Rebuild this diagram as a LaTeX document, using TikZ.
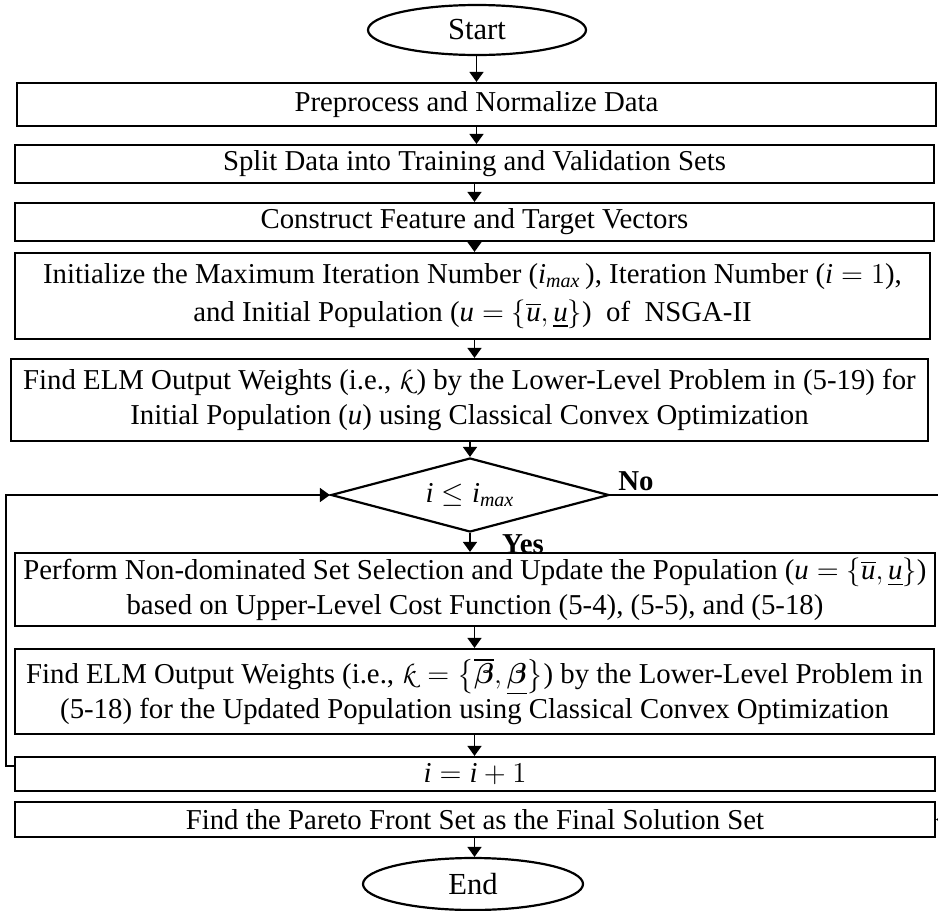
\documentclass[tikz,border=0pt]{standalone}
\usepackage{amsmath}
\usepackage{fontspec}
\setmainfont{Liberation Serif}
\usetikzlibrary{shapes.geometric,arrows.meta,calc}
\DeclareMathAlphabet{\mathpzc}{OT1}{pzc}{m}{it}
\newcommand{\wk}{\mathpzc{k}}
\newcommand{\vi}{\mathit{i}}
\newcommand{\vu}{\mathit{u}}
\newcommand{\imx}{\mathit{i}_{\mathit{max}}}

\begin{document}
\begin{tikzpicture}[x=0.5pt,y=-0.5pt,
  every node/.style={font=\fontsize{14.4}{17.3}\selectfont},
  box/.style={draw, line width=1.1pt, inner sep=0pt, align=center},
  term/.style={draw, ellipse, line width=1.1pt, inner sep=0pt,
    font=\fontsize{15.3}{18}\selectfont},
  cond/.style={draw, diamond, aspect=3.76, line width=1.1pt, inner sep=0pt},
  arr/.style={line width=0.8pt, -{Triangle[length=5pt,width=7pt]}},
  lbl/.style={font=\fontsize{14.4}{17.3}\selectfont\bfseries}]
\useasboundingbox (0,0) rectangle (938,911);
\clip (0,0) rectangle (938,911);

% terminals
\node[term, minimum width=109pt, minimum height=25pt] (start) at (477,30) {Start};
\node[term, minimum width=110pt, minimum height=26pt] (end) at (473,884) {End};

% process steps
\node[box, minimum width=459.5pt, minimum height=21.5pt] (b1) at (476.5,104.5)
  {Preprocess and Normalize Data};
\node[box, minimum width=459.5pt, minimum height=19pt] (b2) at (474.5,164)
  {Split Data into Training and Validation Sets};
\node[box, minimum width=459.5pt, minimum height=19pt] (b3) at (474.5,222)
  {Construct Feature and Target Vectors};
\node[box, minimum width=457.5pt, minimum height=43pt] (b4) at (472.5,296)
  {Initialize the Maximum Iteration Number ($\imx$\,), Iteration Number ($\vi=1$),\\[2pt]
   and Initial Population ($\vu=\{\overline{\vu},\underline{\vu}\}$)\ \ of\ \ NSGA-II};
\node[box, minimum width=458.5pt, minimum height=41pt] (b5) at (469.5,400)
  {Find ELM Output Weights (i.e., $\wk$) by the Lower-Level Problem in (5-19) for\\
   Initial Population ($\vu$) using Classical Convex Optimization};
\node[cond, minimum width=139pt, minimum height=37pt] (dec) at (470,495)
  {$\vi\le \imx$};
\node[box, minimum width=460pt, minimum height=36.5pt] (b6) at (475,589.5)
  {Perform Non-dominated Set Selection and Update the Population ($\vu=\{\overline{\vu},\underline{\vu}\}$)\\
   based on Upper-Level Cost Function (5-4), (5-5), and (5-18)};
\node[box, minimum width=459.5pt, minimum height=42.5pt] (b7) at (474.5,691.5)
  {Find ELM Output Weights (i.e., $\wk=\left\{\overline{\boldsymbol{\beta}},\underline{\boldsymbol{\beta}}\right\}$) by the Lower-Level Problem in\\
   (5-18) for the Updated Population using Classical Convex Optimization};
\node[box, minimum width=460pt, minimum height=17pt] (b8) at (475,774)
  {$\vi=\vi+1$};
\node[box, minimum width=460pt, minimum height=17.5pt] (b9) at (475,819.5)
  {Find the Pareto Front Set as the Final Solution Set};

% branch labels
\node[lbl] (no) at (636,481) {No};
\node[lbl] (yes) at (523,544) {Yes};

% main flow
\draw[arr] (start.south -| b1.north) -- (b1.north);
\draw[arr] (b1.south) -- (b1.south |- b2.north);
\draw[arr] (b2.south) -- (b2.south |- b3.north);
\draw[arr] (b3.south) -- (b3.south |- b4.north);
\draw[arr] (b4.south -| b2.south) -- (b2.south |- b5.north);
\draw[arr] (b5.south -| dec.north) -- (dec.north);
\draw[arr] (dec.south) -- (dec.south |- b6.north);
\draw[arr] (b6.south -| b2.south) -- (b2.south |- b7.north);
\draw[arr] (b7.south) -- (b7.south |- b8.north);
\draw[arr] (b9.south -| b2.south) -- (b2.south |- end.north);

% loop back to the condition
\coordinate (lp) at ($(b8.north west)+(0,10)$);
\draw[arr] (lp) -- ++(-8,0) |- (dec.west);

% exit when the iteration limit is passed
\coordinate (ex) at (946,495);
\draw[arr] (dec.east) -- (ex) |- (b9.east);
\end{tikzpicture}
\end{document}
